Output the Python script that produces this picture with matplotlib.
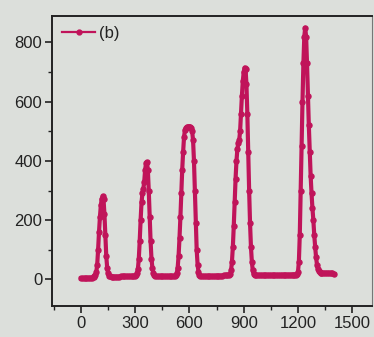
import numpy as np
import matplotlib
matplotlib.use("Agg")
import matplotlib.pyplot as plt
from matplotlib.ticker import MultipleLocator

plt.rcParams['font.family'] = ['Liberation Sans', 'DejaVu Sans']

# time (s) and signal values
t_base0 = [0, 10, 20, 30, 40, 50, 60, 70]
y_base0 = [3, 3, 4, 4, 5, 5, 6, 8]
t_p1 = [75, 80, 85, 90, 95, 100, 105, 110, 115, 120, 125, 130, 135, 140, 145, 150, 155, 160]
y_p1 = [10, 14, 25, 50, 100, 160, 210, 250, 272, 280, 270, 220, 150, 80, 40, 20, 12, 10]
t_base1 = [170, 180, 190, 200, 210, 220, 230, 240, 250, 260, 270, 280, 290, 300]
y_base1 = [9, 9, 9, 9, 9, 10, 10, 10, 10, 10, 10, 11, 11, 12]
t_p2 = [305, 310, 315, 320, 325, 330, 335, 340, 345, 350, 355, 360, 365, 370,
        375, 380, 385, 390, 395, 400, 405, 410]
y_p2 = [14, 20, 35, 70, 130, 200, 260, 290, 305, 330, 370, 392, 395, 370,
        300, 210, 130, 70, 40, 22, 15, 12]
t_base2 = [420, 430, 440, 450, 460, 470, 480, 490, 500, 510, 520]
y_base2 = [11, 10, 10, 10, 10, 10, 10, 10, 11, 11, 12]
t_p3 = [525, 530, 535, 540, 545, 550, 555, 560, 565, 570, 575, 580, 585, 590,
        595, 600, 605, 610, 615, 620, 625, 630, 635, 640, 645, 650, 655, 660]
y_p3 = [14, 20, 40, 80, 140, 210, 290, 370, 430, 480, 505, 512, 515, 515,
        515, 514, 513, 510, 500, 470, 400, 300, 190, 100, 50, 25, 15, 12]
t_base3 = [670, 680, 690, 700, 710, 720, 730, 740, 750, 760, 770, 780, 790, 800, 810, 820]
y_base3 = [11, 11, 11, 11, 11, 11, 11, 11, 12, 12, 12, 12, 13, 13, 14, 15]
t_p4 = [825, 830, 835, 840, 845, 850, 855, 860, 865, 870, 875, 880, 885, 890,
        895, 900, 905, 910, 915, 920, 925, 930, 935, 940, 945, 950, 955, 960]
y_p4 = [18, 30, 60, 110, 180, 260, 340, 400, 440, 460, 470, 500, 560, 620,
        670, 700, 715, 712, 660, 560, 430, 300, 190, 110, 60, 30, 18, 14]
t_base4 = [970, 980, 990, 1000, 1010, 1020, 1030, 1040, 1050, 1060, 1070, 1080,
           1090, 1100, 1110, 1120, 1130, 1140, 1150, 1160, 1170, 1180, 1190]
y_base4 = [13, 13, 13, 13, 13, 13, 13, 14, 14, 14, 14, 14,
           14, 14, 15, 15, 15, 15, 15, 15, 16, 16, 16]
t_p5 = [1195, 1200, 1205, 1210, 1215, 1220, 1225, 1230, 1235, 1240, 1245, 1250,
        1255, 1260, 1265, 1270, 1275, 1280, 1285, 1290, 1295, 1300, 1305, 1310,
        1315, 1320, 1325, 1330]
y_p5 = [18, 25, 60, 150, 300, 450, 600, 730, 820, 850, 820, 730,
        620, 520, 430, 350, 290, 240, 200, 150, 110, 75, 50, 35,
        28, 25, 23, 22]
t_base5 = [1340, 1350, 1360, 1370, 1380, 1390, 1400]
y_base5 = [22, 22, 22, 22, 21, 20, 18]

t = t_base0 + t_p1 + t_base1 + t_p2 + t_base2 + t_p3 + t_base3 + t_p4 + t_base4 + t_p5 + t_base5
y = y_base0 + y_p1 + y_base1 + y_p2 + y_base2 + y_p3 + y_base3 + y_p4 + y_base4 + y_p5 + y_base5

series_label = "(b)"
x_ticks = [0, 300, 600, 900, 1200, 1500]
y_ticks = [0, 200, 400, 600, 800]

bg = '#dcdfdb'
color = '#C0145A'

fig = plt.figure(figsize=(3.74, 3.37), dpi=100, facecolor=bg)
ax = fig.add_axes([0.139, 0.092, 0.856, 0.861])
ax.set_facecolor(bg)

ax.plot(t, y, color=color, lw=3.0, marker='o', ms=3.6, mec=color, mfc=color,
        label=series_label)

ax.set_xlim(-160, 1610)
ax.set_ylim(-90, 890)
ax.set_xticks(x_ticks)
ax.set_yticks(y_ticks)
ax.xaxis.set_minor_locator(MultipleLocator(150))
ax.yaxis.set_minor_locator(MultipleLocator(100))
ax.tick_params(axis='both', which='major', direction='out', length=5, width=1.2,
               labelsize=12, pad=2, colors='#222222')
ax.tick_params(axis='both', which='minor', direction='out', length=3, width=1.0,
               colors='#222222')
for s in ax.spines.values():
    s.set_linewidth(1.4)
    s.set_color('#222222')
ax.spines['right'].set_linewidth(0.8)
ax.spines['right'].set_color('#777777')

leg = ax.legend(loc='upper left', frameon=False, fontsize=12, handlelength=2.0,
                handletextpad=0.2, borderaxespad=0.2)
for h in leg.legend_handles:
    h.set_linewidth(1.6)
    h.set_markersize(3.5)
for txt in leg.get_texts():
    txt.set_color('#222222')

fig.savefig('out.png', dpi=100, facecolor=bg)
